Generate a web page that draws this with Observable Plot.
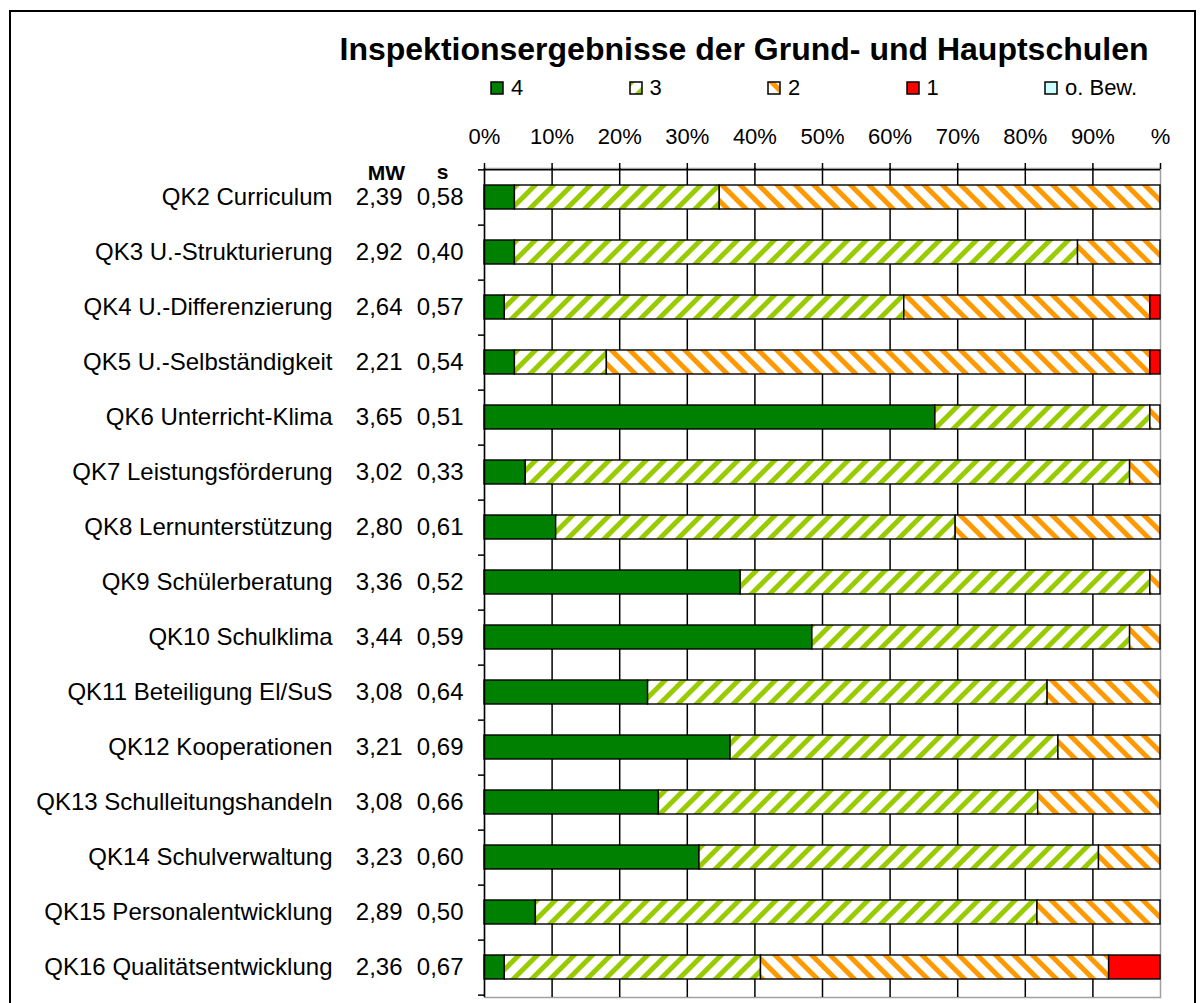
<!DOCTYPE html>
<html><head><meta charset="utf-8">
<script src="https://cdn.jsdelivr.net/npm/d3@7"></script>
<script src="https://cdn.jsdelivr.net/npm/@observablehq/plot@0.6"></script>
<style>
body{margin:0;background:#fff;font-family:Arial,"Liberation Sans",sans-serif;color:#000;}
#wrap{position:relative;width:1203px;height:1003px;overflow:hidden;background:#fff;}
#border{position:absolute;left:9px;top:10px;width:1183px;height:1020px;border:2px solid #000;pointer-events:none;}
#header{position:relative;height:110px;}
#title{position:absolute;left:144px;width:1200px;top:33px;text-align:center;font-weight:bold;font-size:32px;line-height:32px;white-space:nowrap;}
#legend{position:absolute;left:490px;top:77px;display:flex;height:22px;align-items:center;}
.item{width:138.5px;display:flex;align-items:center;font-size:22px;line-height:22px;}
.item svg{margin-right:7px;}
#chart{position:relative;}
</style></head>
<body>
<svg width="0" height="0" style="position:absolute">
<defs>
<pattern id="lime" patternUnits="userSpaceOnUse" width="13" height="13" patternTransform="rotate(45)">
<rect width="13" height="13" fill="#fff"/><rect width="5" height="13" fill="#99CC00"/>
</pattern>
<pattern id="orange" patternUnits="userSpaceOnUse" width="13" height="13" patternTransform="rotate(-45)">
<rect width="13" height="13" fill="#fff"/><rect width="5" height="13" fill="#FF9900"/>
</pattern>
</defs>
</svg>
<div id="wrap">
<div id="header"><div id="title"></div><div id="legend"></div></div>
<div id="chart"></div>
<div id="border"></div>
</div>
<script>
const title = "Inspektionsergebnisse der Grund- und Hauptschulen";
const categories = ["QK2 Curriculum","QK3 U.-Strukturierung","QK4 U.-Differenzierung","QK5 U.-Selbständigkeit","QK6 Unterricht-Klima","QK7 Leistungsförderung","QK8 Lernunterstützung","QK9 Schülerberatung","QK10 Schulklima","QK11 Beteiligung El/SuS","QK12 Kooperationen","QK13 Schulleitungshandeln","QK14 Schulverwaltung","QK15 Personalentwicklung","QK16 Qualitätsentwicklung"];
const mw = ["2,39","2,92","2,64","2,21","3,65","3,02","2,80","3,36","3,44","3,08","3,21","3,08","3,23","2,89","2,36"];
const sd = ["0,58","0,40","0,57","0,54","0,51","0,33","0,61","0,52","0,59","0,64","0,69","0,66","0,60","0,50","0,67"];
const seriesNames = ["4","3","2","1","o. Bew."];
const pct4 = [4.5,4.5,3.0,4.5,66.7,6.1,10.6,37.9,48.5,24.2,36.4,25.8,31.8,7.6,3.0];
const pct3 = [30.3,83.3,59.1,13.6,31.8,89.4,59.1,60.6,47.0,59.1,48.5,56.1,59.1,74.2,37.9];
const pct2 = [65.2,12.2,36.4,80.4,1.5,4.5,30.3,1.5,4.5,16.7,15.1,18.1,9.1,18.2,51.5];
const pct1 = [0,0,1.5,1.5,0,0,0,0,0,0,0,0,0,0,7.6];
const pctOB = [0,0,0,0,0,0,0,0,0,0,0,0,0,0,0];
const tickValues = [0,10,20,30,40,50,60,70,80,90,100];
const tickLabels = ["0%","10%","20%","30%","40%","50%","60%","70%","80%","90%","%"];
const seriesColors = ["#008000","url(#lime)","url(#orange)","#FF0000","#CCFFFF"];

const seriesValues = [pct4,pct3,pct2,pct1,pctOB];
const data = categories.flatMap((c,i)=>seriesNames.map((s,j)=>({cat:c, series:s, value:seriesValues[j][i]}))).filter(d=>d.value>0);

document.getElementById("title").textContent = title;
const legend = document.getElementById("legend");
seriesNames.forEach((s,j)=>{
  const it = document.createElement("div"); it.className="item";
  it.innerHTML = `<svg width="14" height="14"><rect x="1" y="1" width="12" height="12" fill="${seriesColors[j]}" stroke="#000" stroke-width="1.5"/></svg><span>${s}</span>`;
  legend.appendChild(it);
});

const W=1203, H=893, mt=58, mb=6, ml=484, mr=43;
const step=(H-mt-mb)/categories.length;
const font = "Arial, 'Liberation Sans', sans-serif";
const chart = Plot.plot({
  width:W, height:H, marginTop:mt, marginBottom:mb, marginLeft:ml, marginRight:mr,
  style:{fontFamily:font, fontSize:"22px", color:"#000", background:"#fff", overflow:"visible"},
  x:{domain:[0,100]},
  y:{domain:categories, paddingInner:0.56, paddingOuter:0.28, axis:null},
  color:{domain:seriesNames, range:seriesColors},
  marks:[
    Plot.frame({stroke:"#a0a0a0", strokeWidth:1.5}),
    Plot.ruleX(tickValues.slice(1,-1), {stroke:"#000", strokeWidth:1.5}),
    Plot.barX(data, Plot.stackX({y:"cat", x:"value", fill:"series", stroke:"#000", strokeWidth:1.4, order:null})),
    Plot.ruleX([0], {stroke:"#000", strokeWidth:1.5}),
    Plot.ruleY(categories.slice(0,1), {y:d=>d, x1:0, x2:100, dy:-step/2, stroke:"#000", strokeWidth:1.5}),
    Plot.ruleY(categories, {y:d=>d, x1:0, x2:0, insetLeft:-6, dy:step/2, stroke:"#000", strokeWidth:1.5}),
    Plot.ruleY(categories.slice(0,1), {y:d=>d, x1:0, x2:0, insetLeft:-6, dy:-step/2, stroke:"#000", strokeWidth:1.5}),
    Plot.axisX(tickValues, {anchor:"top", label:null, tickSize:6, tickPadding:19, tickFormat:(d,i)=>tickLabels[i], fontSize:22, stroke:"#000", strokeWidth:1.5}),
    Plot.text(categories, {y:d=>d, text:d=>d, frameAnchor:"left", textAnchor:"end", dx:-152, fontSize:24}),
    Plot.text(categories, {y:d=>d, text:(d,i)=>mw[i], frameAnchor:"left", textAnchor:"end", dx:-82, fontSize:24}),
    Plot.text(categories, {y:d=>d, text:(d,i)=>sd[i], frameAnchor:"left", textAnchor:"end", dx:-21, fontSize:24}),
    Plot.text(["MW"], {text:d=>d, frameAnchor:"top-left", dx:-98, dy:-3, textAnchor:"middle", fontWeight:"bold", fontSize:21}),
    Plot.text(["s"], {text:d=>d, frameAnchor:"top-left", dx:-42, dy:-4, textAnchor:"middle", fontWeight:"bold", fontSize:21})
  ]
});
document.getElementById("chart").appendChild(chart);
</script>
</body></html>
